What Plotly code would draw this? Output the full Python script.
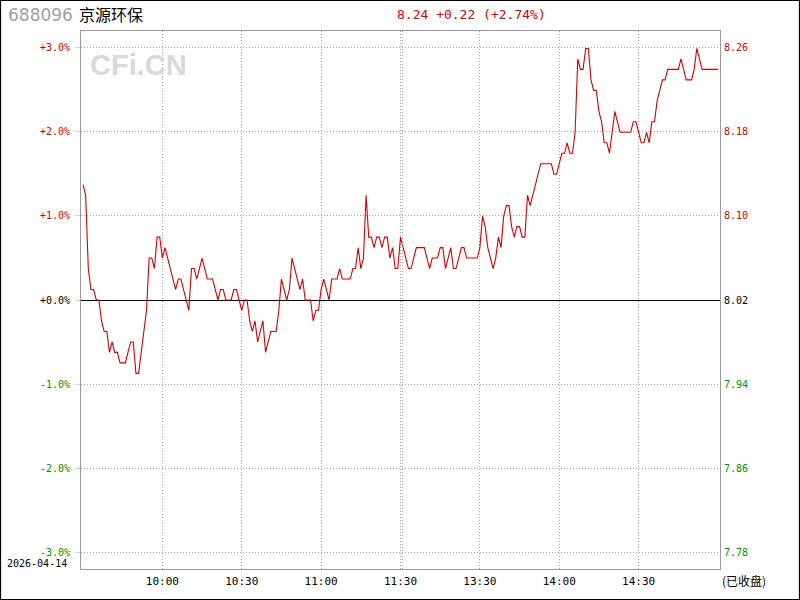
import plotly.graph_objects as go

# ---- data -------------------------------------------------------------
stock_code = "688096"
stock_name = "京源环保"
trade_date = "2026-04-14"
prev_close = 8.02
last_price = 8.24

# minute index (0 = 9:30, 120 = 11:30, 121 = 13:01, 240 = 15:00)
minutes = list(range(241))
# price change vs previous close, in cents, one value per minute
change_cents = [
    11, 10, 3, 1, 1, 0, 0, -2, -3, -3,
    -5, -4, -5, -5, -6, -6, -6, -5, -4, -4,
    -7, -7, -5, -3, -1, 4, 4, 3, 6, 6,
    4, 5, 4, 3, 2, 1, 2, 2, 1, 0,
    -1, 3, 3, 2, 3, 4, 3, 2, 2, 2,
    1, 0, 1, 1, 0, 0, 0, 1, 1, 0,
    -1, 0, 0, -2, -3, -2, -4, -3, -2, -5,
    -4, -3, -3, -3, -1, 2, 1, 0, 1, 4,
    3, 2, 1, 2, 0, 0, 0, -2, -1, -1,
    1, 2, 1, 0, 2, 2, 2, 3, 2, 2,
    2, 2, 3, 3, 5, 3, 4, 10, 6, 6,
    5, 6, 6, 5, 6, 6, 4, 5, 3, 3,
    6, 5, 4, 3, 3, 4, 5, 5, 5, 5,
    4, 3, 4, 4, 4, 5, 5, 3, 4, 5,
    3, 3, 4, 5, 5, 4, 4, 4, 4, 4,
    5, 8, 7, 5, 4, 3, 4, 6, 5, 8,
    9, 9, 7, 6, 7, 7, 6, 6, 10, 9,
    10, 11, 12, 13, 13, 13, 13, 13, 12, 12,
    13, 14, 14, 15, 14, 14, 16, 23, 22, 22,
    24, 24, 21, 20, 20, 18, 17, 15, 15, 14,
    16, 18, 17, 16, 16, 16, 16, 16, 17, 17,
    16, 15, 15, 16, 15, 17, 17, 19, 20, 21,
    21, 22, 22, 22, 22, 22, 23, 22, 21, 21,
    21, 22, 24, 23, 22, 22, 22, 22, 22, 22,
    22,
]

time_tick_vals = [30, 60, 90, 120, 150, 180, 210]
time_tick_text = ["10:00", "10:30", "11:00", "11:30", "13:30", "14:00", "14:30"]

pct_tick_vals = [3, 2, 1, 0, -1, -2, -3]
pct_tick_text = ["+3.0%", "+2.0%", "+1.0%", "+0.0%", "-1.0%", "-2.0%", "-3.0%"]
price_tick_text = ["8.26", "8.18", "8.10", "8.02", "7.94", "7.86", "7.78"]

# ---- derived ------------------------------------------------------------
pct = [c / 100.0 / prev_close * 100.0 for c in change_cents]

RED = "#d40000"
GREEN = "#009000"
GRID = "#a8a8a8"
GRID_DASH = "1px,2px"
BORDER = "#999999"


def colored(labels, vals):
    out = []
    for t, v in zip(labels, vals):
        col = RED if v > 0 else (GREEN if v < 0 else "#000000")
        out.append(f"<span style='color:{col}'>{t}</span>")
    return out


# plot area geometry (pixels)
W, H = 800, 600
L, R, T, B = 81, 80, 31, 31
PW, PH = W - L - R, H - T - B


def px(x):
    return (x - L) / PW


def py(y):
    return (H - B - y) / PH


fig = go.Figure()
fig.add_trace(go.Scatter(
    x=minutes, y=pct, mode="lines",
    line=dict(color=RED, width=1.1),
    hoverinfo="skip", showlegend=False,
))
fig.add_trace(go.Scatter(
    x=minutes, y=pct, mode="lines", yaxis="y2",
    line=dict(color="rgba(0,0,0,0)", width=0),
    hoverinfo="skip", showlegend=False,
))

mono = "DejaVu Sans Mono"

fig.update_layout(
    width=W, height=H, autosize=False,
    margin=dict(l=L, r=R, t=T, b=B, pad=0, autoexpand=False),
    paper_bgcolor="white", plot_bgcolor="white",
    showlegend=False,
    xaxis=dict(
        range=[-0.756, 240.756], tickmode="array",
        tickvals=time_tick_vals, ticktext=time_tick_text,
        showgrid=True, gridcolor=GRID, griddash=GRID_DASH, gridwidth=1,
        zeroline=False, ticks="", ticklabelstandoff=2,
        showline=True, mirror=True, linecolor=BORDER, linewidth=1,
        tickfont=dict(family=mono, size=11, color="#000000"),
        fixedrange=True, automargin=False,
    ),
    yaxis=dict(
        range=[-3.2, 3.2], tickmode="array",
        tickvals=pct_tick_vals, ticktext=colored(pct_tick_text, pct_tick_vals),
        showgrid=True, gridcolor=GRID, griddash=GRID_DASH, gridwidth=1,
        zeroline=True, zerolinecolor="#000000", zerolinewidth=1,
        ticks="outside", ticklen=5, tickcolor="#d4d4d4", tickwidth=1,
        ticklabelstandoff=3,
        showline=True, mirror=True, linecolor=BORDER, linewidth=1,
        tickfont=dict(family=mono, size=10),
        fixedrange=True, automargin=False,
    ),
    yaxis2=dict(
        range=[-3.2, 3.2], overlaying="y", side="right", tickmode="array",
        tickvals=pct_tick_vals, ticktext=colored(price_tick_text, pct_tick_vals),
        showgrid=False, zeroline=False, ticks="", ticklabelstandoff=3,
        tickfont=dict(family=mono, size=10),
        fixedrange=True, automargin=False,
    ),
)

# second (double) gridline at the lunch break
fig.add_shape(type="line", xref="x", yref="paper", x0=120.76, x1=120.76, y0=0, y1=1,
              line=dict(color=GRID, width=1, dash=GRID_DASH))

# outer frame
fig.add_shape(type="rect", xref="paper", yref="paper",
              x0=px(0.5), x1=px(799.5), y0=py(599.5), y1=py(0.5),
              line=dict(color="#000000", width=1.2))

ann = [
    dict(text=stock_code, x=px(7), y=py(15), xanchor="left", yanchor="middle",
         font=dict(family="DejaVu Sans", size=17, color="#a0a0a0")),
    dict(text=stock_name, x=px(78), y=py(14), xanchor="left", yanchor="middle",
         font=dict(family="Noto Sans CJK SC", size=16, color="#000000")),
    dict(text=f"{last_price:.2f} +{last_price - prev_close:.2f} (+{(last_price - prev_close) / prev_close * 100:.2f}%)",
         x=px(396), y=py(15), xanchor="left", yanchor="middle",
         font=dict(family=mono, size=13, color=RED)),
    dict(text="<b>CFi.CN</b>", x=px(89), y=py(65), xanchor="left", yanchor="middle",
         font=dict(family="Liberation Sans", size=29, color="#d9d9d9")),
    dict(text=trade_date, x=px(6), y=py(563), xanchor="left", yanchor="middle",
         font=dict(family=mono, size=10, color="#000000")),
    dict(text="(已收盘)", x=px(721), y=py(580), xanchor="left", yanchor="middle",
         font=dict(family="Noto Sans CJK SC", size=12, color="#000000")),
]
for a in ann:
    a.update(xref="paper", yref="paper", showarrow=False, borderpad=0)
    fig.add_annotation(**a)

fig.write_html("out.html", config={"displayModeBar": False},
               post_script="document.body.style.margin='0';document.body.style.padding='0';")
